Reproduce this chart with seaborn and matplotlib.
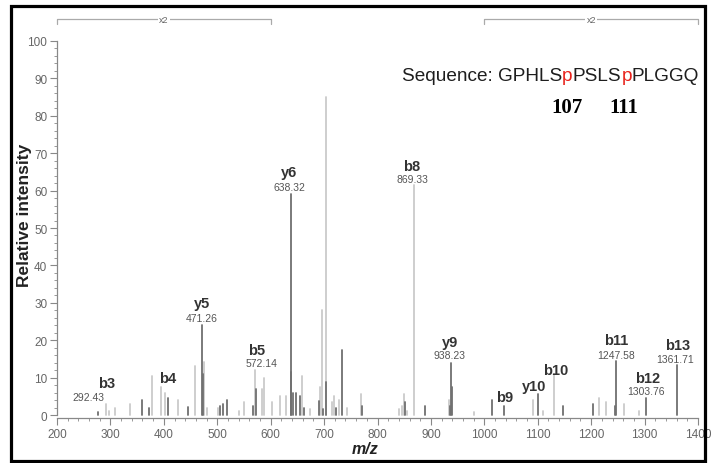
import numpy as np
import pandas as pd
import matplotlib
matplotlib.use("Agg")
import matplotlib.pyplot as plt
import matplotlib.transforms as mtransforms
from matplotlib.patches import Rectangle
from matplotlib.ticker import MultipleLocator
import seaborn as sns

# ---- data ----
dark_mz = [276, 360, 373, 407, 446, 471, 474, 506, 510, 519, 567, 572, 638, 639, 642, 647,
           655, 662, 690, 698, 704, 722, 733, 771, 852, 889, 936, 938, 939, 1014, 1036,
           1100, 1148, 1204, 1245, 1247, 1303, 1361]
dark_int = [0.9, 4, 2, 4.5, 2.2, 24, 11, 2.5, 3, 4, 2.5, 7, 59, 11.5, 6, 6,
            5, 2, 3.7, 1.5, 8.7, 2, 17.5, 2.5, 3.5, 2.3, 2.5, 14, 7.5, 4, 2.5,
            5.5, 2.3, 3, 2.5, 14.5, 4.5, 13.5]
light_mz = [292, 298, 308, 336, 377, 394, 403, 427, 458, 475, 481, 501, 541, 550, 571, 583,
            588, 603, 618, 629, 658, 674, 693, 697, 703, 715, 719, 728, 742, 770, 840,
            846, 850, 856, 869, 933, 980, 1092, 1110, 1130, 1214, 1228, 1262, 1290]
light_int = [3, 1, 1.8, 3, 10.3, 7.5, 6, 4, 13, 14.3, 2, 2, 1, 3.5, 12, 7,
             10, 3.5, 5, 5, 10.5, 1.5, 7.5, 28, 85, 3.5, 5, 4, 2, 5.5, 1.5,
             2.5, 5.5, 1, 61.5, 4, 0.8, 4, 1, 11, 4.5, 3.5, 3, 1]

ion_names = ["b3", "b4", "y5", "b5", "y6", "b8", "y9", "b9", "y10", "b10", "b11", "b12", "b13"]
ion_mz_text = ["292.43", "", "471.26", "572.14", "638.32", "869.33", "938.23", "", "", "",
               "1247.58", "1303.76", "1361.71"]
ion_name_x = [293, 407, 471, 573, 635, 864, 935, 1038, 1094, 1133, 1247, 1306, 1362]
ion_name_y = [8.5, 9.8, 30, 17.5, 65, 66.5, 19.6, 4.8, 7.7, 12, 20, 9.8, 18.8]
ion_num_x = [258, 407, 471, 582, 635, 866, 935, 1038, 1094, 1133, 1247, 1302, 1358]
ion_num_y = [4.8, 0, 26, 13.8, 61, 63, 16, 0, 0, 0, 16, 6.3, 15]

seq_parts = ["Sequence: GPHLS", "p", "PSLS", "p", "PLGGQ"]
seq_colors = ["#1e1e1e", "#e8221b", "#1e1e1e", "#e8221b", "#1e1e1e"]
site_labels = ["107", "111"]
bracket_ranges = [(200, 600), (1000, 1400)]
bracket_text = "x2"

# ---- build long table for seaborn ----
rows = []
pid = 0
for kind, mzs, ints in (("light", light_mz, light_int), ("dark", dark_mz, dark_int)):
    for m, h in zip(mzs, ints):
        rows.append({"mz": m, "intensity": 0.0, "peak": pid, "kind": kind})
        rows.append({"mz": m, "intensity": h, "peak": pid, "kind": kind})
        pid += 1
df = pd.DataFrame(rows)

sns.set_style("ticks")
plt.rcParams["font.family"] = ["Liberation Sans", "DejaVu Sans"]

fig = plt.figure(figsize=(7.15, 4.64), dpi=100)
ax = fig.add_axes([57 / 715, 45 / 464, 641 / 715, 377 / 464])

sns.lineplot(data=df, x="mz", y="intensity", units="peak", estimator=None, hue="kind",
             hue_order=["light", "dark"], palette={"light": "#cacaca", "dark": "#707070"},
             linewidth=1.3, legend=False, ax=ax, sort=True)

ax.set_xlim(200, 1400)
ax.set_ylim(-0.8, 100)
ax.xaxis.set_major_locator(MultipleLocator(100))
ax.xaxis.set_minor_locator(MultipleLocator(20))
ax.yaxis.set_major_locator(MultipleLocator(10))
ax.yaxis.set_minor_locator(MultipleLocator(2))
ax.tick_params(axis="both", which="major", length=5, width=0.8, color="#888888",
               labelsize=8.5, labelcolor="#666666", pad=2)
ax.tick_params(axis="both", which="minor", length=2.5, width=0.7, color="#999999")
for s in ("top", "right"):
    ax.spines[s].set_visible(False)
for s in ("left", "bottom"):
    ax.spines[s].set_color("#888888")
    ax.spines[s].set_linewidth(0.9)
ax.spines["left"].set_bounds(0, 100)

ax.set_xlabel("m/z", fontsize=11.5, fontweight="bold", fontstyle="italic", color="#222222")
ax.xaxis.set_label_coords(0.48, -0.06)
ax.set_ylabel("Relative intensity", fontsize=12.5, fontweight="bold", color="#222222",
              va="center")
ax.yaxis.set_label_coords(-0.05, 0.54)

# ion annotations
for name, nx, ny, num, ux, uy in zip(ion_names, ion_name_x, ion_name_y, ion_mz_text,
                                     ion_num_x, ion_num_y):
    ax.text(nx, ny, name, ha="center", va="center", fontsize=10.5, fontweight="bold",
            color="#333333")
    if num:
        ax.text(ux, uy, num, ha="center", va="center", fontsize=7.5, color="#555555")

# x2 brackets
trans = mtransforms.blended_transform_factory(ax.transData, ax.transAxes)
for (a, b) in bracket_ranges:
    ax.plot([a, a, b, b], [1.045, 1.058, 1.058, 1.045], transform=trans, color="#aaaaaa",
            lw=0.9, clip_on=False)
    ax.text((a + b) / 2, 1.058, bracket_text, transform=trans, ha="center", va="center",
            fontsize=6.5, color="#666666",
            bbox=dict(boxstyle="square,pad=0.15", fc="white", ec="none"))

# sequence text with red phospho sites
t = fig.text(402 / 715, (464 - 81) / 464, seq_parts[0], fontsize=13.7, color=seq_colors[0],
             ha="left", va="baseline")
prev = t
for part, col in zip(seq_parts[1:], seq_colors[1:]):
    prev = ax.annotate(part, xy=(1, 0), xycoords=prev, ha="left", va="bottom",
                       fontsize=13.7, color=col, annotation_clip=False)

for lab, px in zip(site_labels, [567, 624]):
    fig.text(px / 715, (464 - 113) / 464, lab, fontsize=15, fontweight="bold",
             family=["Liberation Serif", "DejaVu Serif"], color="black",
             ha="center", va="baseline")

# outer frame
fig.patches.append(Rectangle((11.5 / 715, 2.5 / 464), (705 - 11.5) / 715, (457 - 2.5) / 464,
                             transform=fig.transFigure, fill=False, lw=2.3,
                             edgecolor="black"))

fig.savefig("out.png", dpi=100)
